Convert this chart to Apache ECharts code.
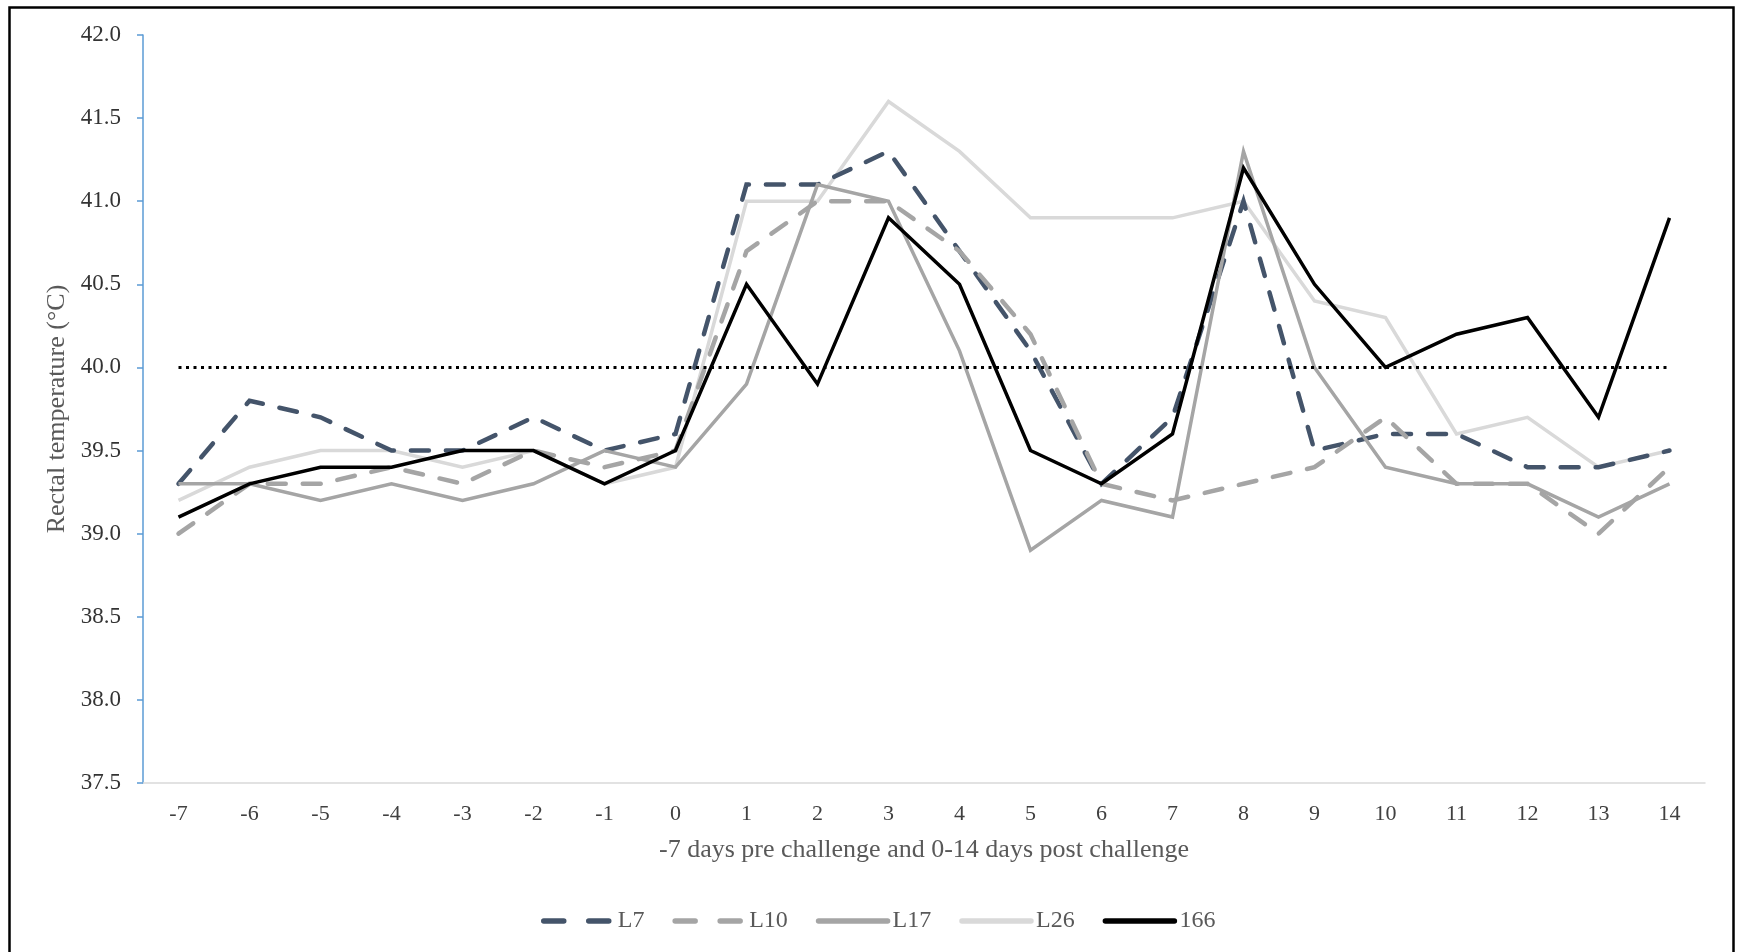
<!DOCTYPE html>
<html>
<head>
<meta charset="utf-8">
<title>Rectal temperature</title>
<script src="https://cdn.jsdelivr.net/npm/echarts@6/dist/echarts.min.js"></script>
<style>
  html, body { margin: 0; padding: 0; background: #ffffff; }
  #chart { width: 1738px; height: 952px; }
</style>
</head>
<body>
<div id="chart"></div>
<script>
// Days relative to challenge
const days = ['-7', '-6', '-5', '-4', '-3', '-2', '-1', '0', '1', '2', '3', '4', '5', '6', '7', '8', '9', '10', '11', '12', '13', '14'];

// Rectal temperature (°C) per animal
const seriesL7  = [39.3, 39.8, 39.7, 39.5, 39.5, 39.7, 39.5, 39.6, 41.1, 41.1, 41.3, 40.7, 40.1, 39.3, 39.7, 41.0, 39.5, 39.6, 39.6, 39.4, 39.4, 39.5];
const seriesL10 = [39.0, 39.3, 39.3, 39.4, 39.3, 39.5, 39.4, 39.5, 40.7, 41.0, 41.0, 40.7, 40.2, 39.3, 39.2, 39.3, 39.4, 39.7, 39.3, 39.3, 39.0, 39.4];
const seriesL17 = [39.3, 39.3, 39.2, 39.3, 39.2, 39.3, 39.5, 39.4, 39.9, 41.1, 41.0, 40.1, 38.9, 39.2, 39.1, 41.3, 40.0, 39.4, 39.3, 39.3, 39.1, 39.3];
const seriesL26 = [39.2, 39.4, 39.5, 39.5, 39.4, 39.5, 39.3, 39.4, 41.0, 41.0, 41.6, 41.3, 40.9, 40.9, 40.9, 41.0, 40.4, 40.3, 39.6, 39.7, 39.4, 39.5];
const series166 = [39.1, 39.3, 39.4, 39.4, 39.5, 39.5, 39.3, 39.5, 40.5, 39.9, 40.9, 40.5, 39.5, 39.3, 39.6, 41.2, 40.5, 40.0, 40.2, 40.3, 39.7, 40.9];

// Fever threshold
const feverThreshold = 40.0;

// Y axis range
const yMin = 37.5, yMax = 42.0, yStep = 0.5;

const FONT = '"Liberation Serif", "Times New Roman", serif';
const DASH = [18, 17];

function lineSeries(name, data, color, width, type, z) {
  return {
    name: name,
    type: 'line',
    data: data,
    symbol: 'none',
    z: z,
    lineStyle: { color: color, width: width, type: type, cap: type === 'solid' ? 'butt' : 'round', join: 'miter' },
    itemStyle: { color: color },
    emphasis: { disabled: true }
  };
}

const chart = echarts.init(document.getElementById('chart'), null, { renderer: 'canvas' });

const series = [
  lineSeries('L7', seriesL7, '#44546A', 4.5, DASH, 2),
  lineSeries('L10', seriesL10, '#A5A5A5', 4.5, DASH, 3),
  lineSeries('L17', seriesL17, '#A5A5A5', 3.5, 'solid', 4),
  lineSeries('L26', seriesL26, '#D9D9D9', 3.5, 'solid', 1),
  lineSeries('166', series166, '#000000', 3.5, 'solid', 5)
];

// Dotted reference line at the fever threshold
series[0].markLine = {
  silent: true,
  symbol: ['none', 'none'],
  label: { show: false },
  lineStyle: { color: '#000000', width: 3, type: [3, 4.5], cap: 'butt' },
  data: [[
    { coord: [days[0], feverThreshold] },
    { coord: [days[days.length - 1], feverThreshold] }
  ]]
};

// Legend swatches: thick rounded strokes, two dashes for the dashed series
const legendDash = [20, 25];
const legendItems = [
  { name: 'L7', lineStyle: { type: legendDash } },
  { name: 'L10', lineStyle: { type: legendDash } },
  { name: 'L17' },
  { name: 'L26' },
  { name: '166' }
];

chart.setOption({
  animation: false,
  backgroundColor: '#ffffff',
  textStyle: { fontFamily: FONT },
  graphic: [{
    type: 'rect',
    left: 7, top: 5,
    shape: { width: 1724, height: 960 },
    style: { fill: 'none', stroke: '#000000', lineWidth: 2.5 },
    silent: true
  }],
  grid: { left: 143, right: 33, top: 35, bottom: 169 },
  legend: {
    data: legendItems,
    left: 536,
    top: 904,
    itemWidth: 69,
    itemHeight: 14,
    itemGap: 28,
    itemStyle: { opacity: 0 },
    lineStyle: { width: 5.5, cap: 'round' },
    textStyle: { fontFamily: FONT, fontSize: 24, color: '#595959' }
  },
  xAxis: {
    type: 'category',
    data: days,
    boundaryGap: true,
    name: '-7 days pre challenge and 0-14 days post challenge',
    nameLocation: 'middle',
    nameGap: 54,
    nameTextStyle: { fontFamily: FONT, fontSize: 26, color: '#595959' },
    axisLine: { show: true, lineStyle: { color: '#D9D9D9', width: 1.5 } },
    axisTick: { show: false },
    axisLabel: { fontFamily: FONT, fontSize: 22, color: '#404040', margin: 20, interval: 0 },
    splitLine: { show: false }
  },
  yAxis: {
    type: 'value',
    min: yMin,
    max: yMax,
    interval: yStep,
    name: 'Rectal temperature (°C)',
    nameLocation: 'middle',
    nameGap: 73,
    nameTextStyle: { fontFamily: FONT, fontSize: 26, color: '#595959' },
    axisLine: { show: true, lineStyle: { color: '#5B9BD5', width: 1.5 } },
    axisTick: { show: true, inside: false, length: 6, lineStyle: { color: '#5B9BD5', width: 1.5 } },
    axisLabel: {
      fontFamily: FONT, fontSize: 23, color: '#333333', margin: 22,
      formatter: function (v) { return v.toFixed(1); }
    },
    splitLine: { show: false }
  },
  series: series
});
</script>
</body>
</html>
